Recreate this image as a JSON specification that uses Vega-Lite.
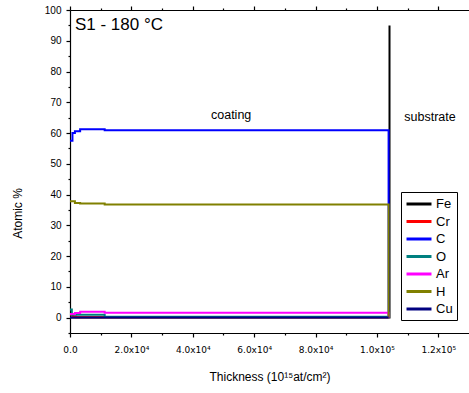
{
  "$schema": "https://vega.github.io/schema/vega-lite/v6.json",
  "width": 399,
  "height": 323,
  "autosize": {"type": "none"},
  "padding": {"left": 70, "top": 10, "right": 0, "bottom": 60},
  "config": {
    "view": {"stroke": null},
    "font": "Liberation Sans",
    "axis": {
      "grid": false,
      "domainColor": "#000000",
      "tickColor": "#000000",
      "labelColor": "#000000",
      "titleColor": "#000000",
      "labelFontSize": 10,
      "titleFontSize": 12,
      "titleFontWeight": "normal",
      "domainWidth": 1.2,
      "tickWidth": 1.2
    }
  },
  "datasets": {
    "series": [
      {"element": "Fe", "thickness": 0, "atomic": 0},
      {"element": "Fe", "thickness": 104100, "atomic": 95},
      {"element": "Cr", "thickness": 0, "atomic": 0.9},
      {"element": "Cr", "thickness": 900, "atomic": 0.4},
      {"element": "Cr", "thickness": 2000, "atomic": 0.1},
      {"element": "Cr", "thickness": 103800, "atomic": 0},
      {"element": "C", "thickness": 0, "atomic": 57.5},
      {"element": "C", "thickness": 800, "atomic": 60},
      {"element": "C", "thickness": 1600, "atomic": 60.6},
      {"element": "C", "thickness": 3300, "atomic": 61.2},
      {"element": "C", "thickness": 11300, "atomic": 60.9},
      {"element": "C", "thickness": 103800, "atomic": 0},
      {"element": "O", "thickness": 0, "atomic": 2.6},
      {"element": "O", "thickness": 600, "atomic": 0.9},
      {"element": "O", "thickness": 11300, "atomic": 0.3},
      {"element": "O", "thickness": 103800, "atomic": 0},
      {"element": "Ar", "thickness": 0, "atomic": 1.2},
      {"element": "Ar", "thickness": 1600, "atomic": 1.5},
      {"element": "Ar", "thickness": 3300, "atomic": 1.9},
      {"element": "Ar", "thickness": 11300, "atomic": 1.6},
      {"element": "Ar", "thickness": 103800, "atomic": 0},
      {"element": "H", "thickness": 0, "atomic": 37.8},
      {"element": "H", "thickness": 1600, "atomic": 37.3},
      {"element": "H", "thickness": 3300, "atomic": 37.1},
      {"element": "H", "thickness": 11300, "atomic": 36.8},
      {"element": "H", "thickness": 103800, "atomic": 0},
      {"element": "Cu", "thickness": 0, "atomic": 0},
      {"element": "Cu", "thickness": 103800, "atomic": 0}
    ],
    "title": [
      {"thickness": 1600, "atomic": 95, "label": "S1 - 180 °C"}
    ],
    "notes": [
      {"thickness": 52500, "atomic": 66, "label": "coating"},
      {"thickness": 117300, "atomic": 65.3, "label": "substrate"}
    ]
  },
  "layer": [
    {
      "data": {"name": "series"},
      "mark": {"type": "line", "interpolate": "step-after", "strokeWidth": 2},
      "encoding": {
        "x": {
          "field": "thickness", "type": "quantitative",
          "scale": {"domain": [0, 130000], "nice": false, "zero": false},
          "axis": {
            "orient": "bottom",
            "values": [0, 20000, 40000, 60000, 80000, 100000, 120000],
            "labelExpr": "datum.value == 0 ? '0.0' : (datum.value < 100000 ? format(datum.value/10000, '.1f') + 'x10⁴' : format(datum.value/100000, '.1f') + 'x10⁵')",
            "labelFont": "DejaVu Sans",
            "labelFontSize": 9,
            "tickSize": 4,
            "labelPadding": 8,
            "labelFlush": false,
            "labelOverlap": false,
            "title": "Thickness (10¹⁵at/cm²)",
            "titleX": 199.5,
            "titleY": 43,
            "titleBaseline": "middle"
          }
        },
        "y": {
          "field": "atomic", "type": "quantitative",
          "scale": {"domain": [-5, 100], "nice": false, "zero": false},
          "axis": {
            "orient": "left",
            "values": [0, 10, 20, 30, 40, 50, 60, 70, 80, 90, 100],
            "tickSize": 4,
            "labelPadding": 5,
            "labelFlush": false,
            "labelOverlap": false,
            "title": "Atomic %",
            "titleX": -53,
            "titleY": 203,
            "titleBaseline": "middle"
          }
        },
        "color": {
          "field": "element", "type": "nominal",
          "scale": {
            "domain": ["Fe", "Cr", "C", "O", "Ar", "H", "Cu"],
            "range": ["#000000", "#ff0000", "#0000ff", "#008080", "#ff00ff", "#808000", "#000080"]
          },
          "legend": {
            "orient": "none",
            "legendX": 331,
            "legendY": 182,
            "title": null,
            "symbolType": "M-2,0H2",
            "symbolSize": 156,
            "symbolOffset": 6,
            "symbolStrokeWidth": 3,
            "labelFontSize": 13,
            "labelColor": "#000000",
            "labelOffset": 9,
            "rowPadding": 2.5,
            "padding": 4,
            "strokeColor": "#000000",
            "fillColor": "#ffffff",
            "cornerRadius": 0
          }
        }
      }
    },
    {
      "data": {"name": "series"},
      "mark": {"type": "point", "opacity": 0},
      "encoding": {
        "x": {
          "field": "thickness", "type": "quantitative",
          "scale": {"domain": [0, 130000], "nice": false, "zero": false},
          "axis": {"orient": "bottom", "values": [10000, 30000, 50000, 70000, 90000, 110000], "labels": false, "tickSize": 2, "domain": false, "title": null}
        },
        "y": {
          "field": "atomic", "type": "quantitative",
          "scale": {"domain": [-5, 100], "nice": false, "zero": false},
          "axis": {"orient": "left", "values": [-5, 5, 15, 25, 35, 45, 55, 65, 75, 85, 95], "labels": false, "tickSize": 2, "domain": false, "title": null}
        }
      }
    },
    {
      "data": {"name": "series"},
      "mark": {"type": "point", "opacity": 0},
      "encoding": {
        "x": {
          "field": "thickness", "type": "quantitative",
          "scale": {"domain": [0, 130000], "nice": false, "zero": false},
          "axis": {"orient": "top", "values": [0, 20000, 40000, 60000, 80000, 100000, 120000], "labels": false, "tickSize": 4, "title": null}
        },
        "y": {"field": "atomic", "type": "quantitative", "axis": null}
      }
    },
    {
      "data": {"name": "series"},
      "mark": {"type": "point", "opacity": 0},
      "encoding": {
        "x": {
          "field": "thickness", "type": "quantitative",
          "scale": {"domain": [0, 130000], "nice": false, "zero": false},
          "axis": {"orient": "top", "values": [10000, 30000, 50000, 70000, 90000, 110000], "labels": false, "tickSize": 2, "domain": false, "title": null}
        },
        "y": {"field": "atomic", "type": "quantitative", "axis": null}
      }
    },
    {
      "data": {"name": "title"},
      "mark": {"type": "text", "align": "left", "baseline": "middle", "fontSize": 17, "color": "#000000"},
      "encoding": {
        "x": {"field": "thickness", "type": "quantitative", "axis": null},
        "y": {"field": "atomic", "type": "quantitative", "axis": null},
        "text": {"field": "label"}
      }
    },
    {
      "data": {"name": "notes"},
      "mark": {"type": "text", "align": "center", "baseline": "middle", "fontSize": 12.5, "color": "#000000"},
      "encoding": {
        "x": {"field": "thickness", "type": "quantitative", "axis": null},
        "y": {"field": "atomic", "type": "quantitative", "axis": null},
        "text": {"field": "label"}
      }
    }
  ],
  "resolve": {"axis": {"x": "independent", "y": "independent"}}
}
